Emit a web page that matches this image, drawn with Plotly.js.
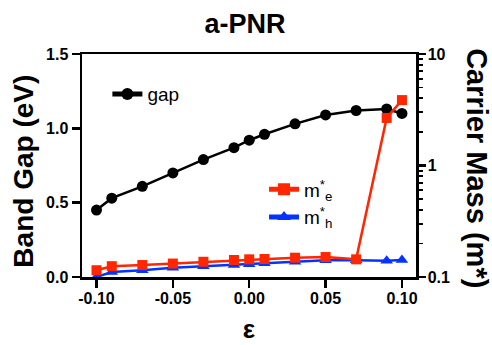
<!DOCTYPE html>
<html>
<head>
<meta charset="utf-8">
<script src="https://cdn.plot.ly/plotly-3.0.1.min.js"></script>
<style>html,body{margin:0;padding:0;background:#fff;}#chart{width:492px;height:345px;}</style>
</head>
<body>
<div id="chart"></div>
<script>
const strain = [-0.10, -0.09, -0.07, -0.05, -0.03, -0.01, 0.00, 0.01, 0.03, 0.05, 0.07, 0.09, 0.10];
const gapEV  = [0.45, 0.53, 0.61, 0.70, 0.79, 0.87, 0.92, 0.96, 1.03, 1.09, 1.12, 1.13, 1.10];
const massE  = [0.115, 0.125, 0.128, 0.132, 0.137, 0.142, 0.144, 0.145, 0.149, 0.151, 0.144, 2.67, 3.86];
const massH  = [0.100, 0.111, 0.115, 0.121, 0.125, 0.128, 0.130, 0.133, 0.137, 0.141, 0.141, 0.140, 0.142];
const xTickVals = [-0.10, -0.05, 0.00, 0.05, 0.10];
const xTickText = ['-0.10', '-0.05', '0.00', '0.05', '0.10'];
const yTickVals = [0, 0.5, 1.0, 1.5];
const yTickText = ['0.0', '0.5', '1.0', '1.5'];

const FONT = 'Liberation Sans, Arial, sans-serif';
const RED = '#ff2600', BLUE = '#0433ff';

const traces = [
  {x: strain, y: gapEV, name: 'gap', type: 'scatter', mode: 'lines+markers',
   line: {color: '#000', width: 2.5}, marker: {symbol: 'circle', size: 11, color: '#000'},
   yaxis: 'y', legend: 'legend', cliponaxis: false},
  {x: strain, y: massH, name: 'm<sup>*</sup><sub>h</sub>', type: 'scatter', mode: 'lines+markers',
   line: {color: BLUE, width: 2.5}, marker: {symbol: 'triangle-up', size: 11, color: BLUE},
   yaxis: 'y2', legend: 'legend2', legendrank: 2, cliponaxis: false},
  {x: strain, y: massE, name: 'm<sup>*</sup><sub>e</sub>', type: 'scatter', mode: 'lines+markers',
   line: {color: RED, width: 2.5}, marker: {symbol: 'square', size: 10, color: RED},
   yaxis: 'y2', legend: 'legend2', legendrank: 1, cliponaxis: false}
];

const layout = {
  width: 492, height: 345,
  margin: {l: 81.5, r: 76, t: 54, b: 68, pad: 0},
  paper_bgcolor: '#fff', plot_bgcolor: '#fff',
  font: {family: FONT, color: '#000'},
  showlegend: true,
  title: {text: 'a-PNR', font: {size: 27, weight: 'bold', family: FONT}, xref: 'container', x: 0.498, yref: 'container', y: 0.932, yanchor: 'middle'},
  xaxis: {
    range: [-0.1095, 0.1092], showgrid: false, zeroline: false,
    showline: true, linecolor: '#000', linewidth: 2.5, mirror: true,
    ticks: 'outside', ticklen: 8, tickwidth: 2.5, tickcolor: '#000',
    tickmode: 'array', tickvals: xTickVals, ticktext: xTickText, ticklabelstandoff: -3,
    tickfont: {size: 16, weight: 'bold', family: FONT},
    title: {text: 'ε', font: {size: 26, weight: 'bold', family: FONT}, standoff: 14}
  },
  yaxis: {
    range: [0, 1.5], showgrid: false, zeroline: false,
    showline: true, linecolor: '#000', linewidth: 2.5,
    ticks: 'outside', ticklen: 8, tickwidth: 2.5, tickcolor: '#000',
    tickmode: 'array', tickvals: yTickVals, ticktext: yTickText,
    tickfont: {size: 16, weight: 'bold', family: FONT}
  },
  yaxis2: {
    type: 'log', range: [-1, 1], overlaying: 'y', side: 'right',
    showgrid: false, zeroline: false,
    showline: true, linecolor: '#000', linewidth: 2.5,
    ticks: 'outside', ticklen: 7, tickwidth: 2.5, tickcolor: '#000',
    dtick: 1, tick0: 0, ticklabelstandoff: -1,
    minor: {ticks: 'outside', ticklen: 4, tickwidth: 1.8, tickcolor: '#000', dtick: 'D1', showgrid: false},
    tickfont: {size: 16, weight: 'bold', family: FONT}
  },
  legend: {x: 0.076, xanchor: 'left', y: 0.82, yanchor: 'middle', bgcolor: 'rgba(0,0,0,0)',
           font: {size: 19, family: FONT}, itemsizing: 'constant'},
  legend2: {x: 0.545, xanchor: 'left', y: 0.33, yanchor: 'middle', bgcolor: 'rgba(0,0,0,0)',
           font: {size: 19, family: FONT}, itemsizing: 'constant', tracegroupgap: 0},
  annotations: [
    {text: 'Band Gap (eV)', xref: 'paper', yref: 'paper', x: -0.175, y: 0.475,
     xanchor: 'center', yanchor: 'middle', textangle: -90, showarrow: false,
     font: {size: 28, weight: 'bold', family: FONT, color: '#000'}},
    {text: 'Carrier Mass (m*)', xref: 'paper', yref: 'paper', x: 1.182, y: 0.489,
     xanchor: 'center', yanchor: 'middle', textangle: 90, showarrow: false,
     font: {size: 29, weight: 'bold', family: FONT, color: '#000'}}
  ]
};

Plotly.newPlot('chart', traces, layout, {displayModeBar: false, staticPlot: true});
</script>
</body>
</html>
